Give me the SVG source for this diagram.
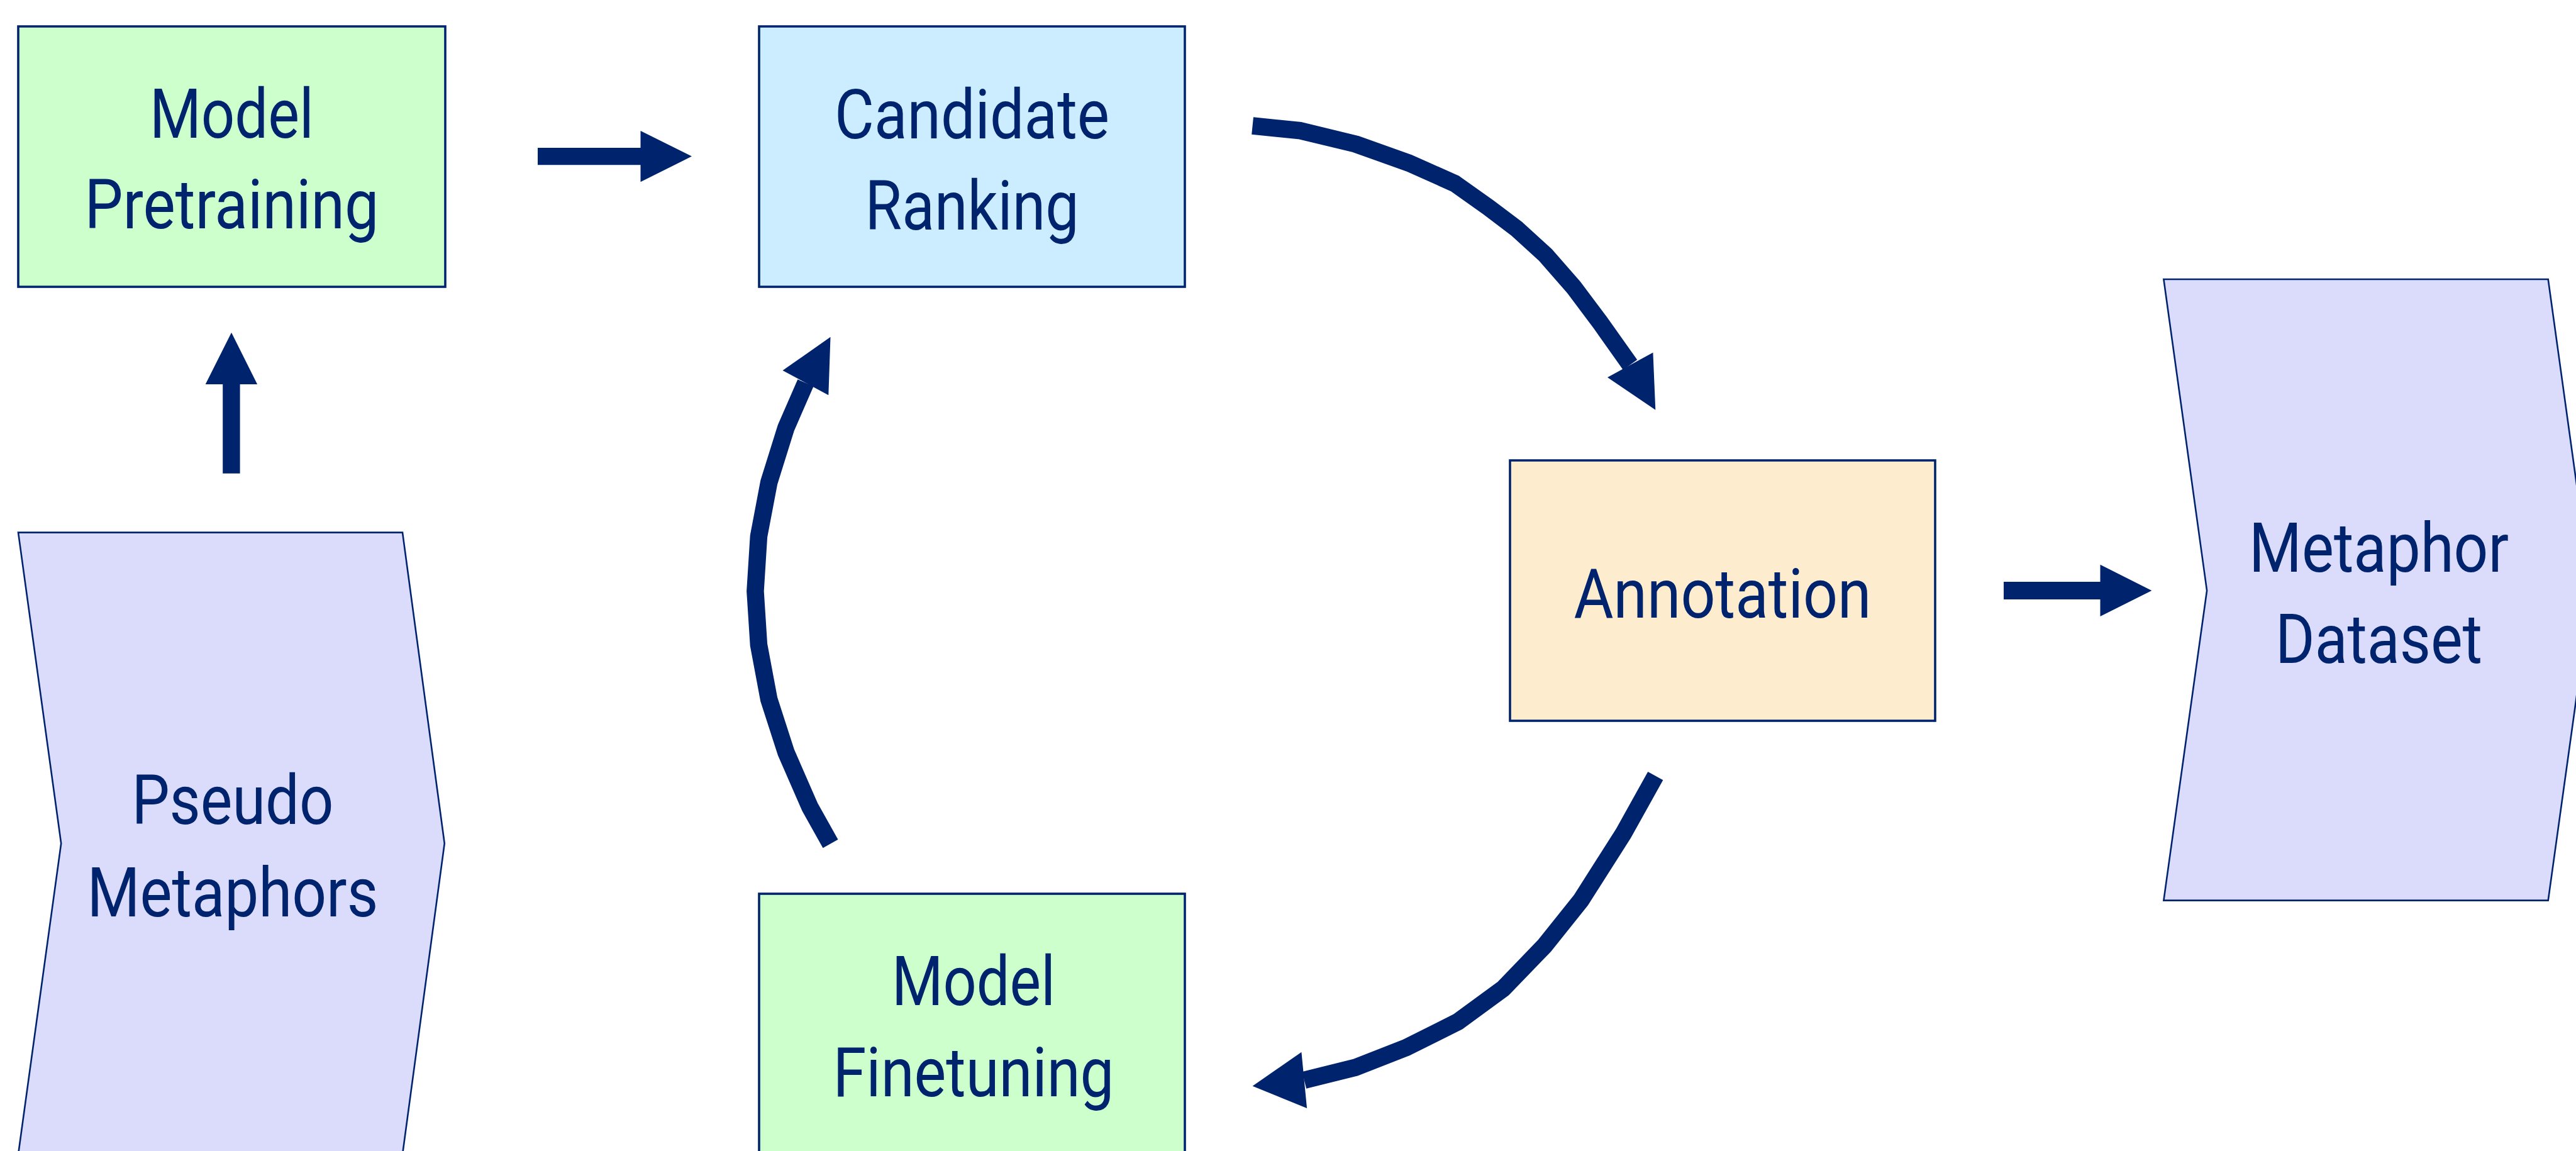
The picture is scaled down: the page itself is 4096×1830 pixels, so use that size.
<svg xmlns="http://www.w3.org/2000/svg" width="4096" height="1830" viewBox="0 0 4096 1830">
  <style>
    .box { stroke: #00236E; stroke-width: 3.6; }
    .tape { stroke: #00236E; stroke-width: 2.6; fill: #DBDBFB; }
    .green { fill: #CCFFCC; }
    .blue { fill: #CCECFF; }
    .sand { fill: #FDEDCE; }
    .label { font-family: Roboto, "Liberation Sans", sans-serif; font-size: 110px; fill: #00236E; text-anchor: middle; }
    .wire { fill: none; stroke: #00236E; stroke-width: 27.5; stroke-linejoin: round; stroke-linecap: butt; }
    .head, .block { fill: #00236E; stroke: none; }
  </style>

  <rect width="4096" height="1830" fill="#FFFFFF"/>

  <!-- process nodes -->
  <g id="model-pretraining">
    <rect class="box green" x="29" y="42" width="679" height="414"/>
    <text class="label" x="368.4" y="218.8" textLength="261" lengthAdjust="spacingAndGlyphs">Model</text>
    <text class="label" x="368.4" y="363.4" textLength="468" lengthAdjust="spacingAndGlyphs">Pretraining</text>
  </g>

  <g id="candidate-ranking">
    <rect class="box blue" x="1207" y="42" width="677" height="414"/>
    <text class="label" x="1545.6" y="219.8" textLength="437" lengthAdjust="spacingAndGlyphs">Candidate</text>
    <text class="label" x="1545.6" y="365.3" textLength="340" lengthAdjust="spacingAndGlyphs">Ranking</text>
  </g>

  <g id="annotation">
    <rect class="box sand" x="2401" y="732" width="676" height="414"/>
    <text class="label" x="2739" y="981.8" textLength="473" lengthAdjust="spacingAndGlyphs">Annotation</text>
  </g>

  <g id="model-finetuning">
    <rect class="box green" x="1207" y="1421" width="677" height="414"/>
    <text class="label" x="1547.9" y="1597.7" textLength="260" lengthAdjust="spacingAndGlyphs">Model</text>
    <text class="label" x="1547.9" y="1743.1" textLength="447" lengthAdjust="spacingAndGlyphs">Finetuning</text>
  </g>

  <!-- data nodes -->
  <g id="pseudo-metaphors">
    <polygon class="tape" points="29,846.6 640,846.6 706.8,1341 640,1835.4 29,1835.4 97.2,1341"/>
    <text class="label" x="369.9" y="1310.2" textLength="321" lengthAdjust="spacingAndGlyphs">Pseudo</text>
    <text class="label" x="369.9" y="1456.5" textLength="463" lengthAdjust="spacingAndGlyphs">Metaphors</text>
  </g>

  <g id="metaphor-dataset">
    <polygon class="tape" points="3440.4,444 4051.7,444 4120.4,938.9 4051.7,1431.6 3440.4,1431.6 3509.1,938.9"/>
    <text class="label" x="3782.5" y="908.5" textLength="413" lengthAdjust="spacingAndGlyphs">Metaphor</text>
    <text class="label" x="3782.5" y="1054.1" textLength="329" lengthAdjust="spacingAndGlyphs">Dataset</text>
  </g>

  <!-- connectors -->
  <g id="connectors">
    <!-- block arrows -->
    <polygon class="block" points="855,234.9 1018.5,234.9 1018.5,208 1100,248.6 1018.5,289.3 1018.5,262.3 855,262.3"/>
    <polygon class="block" points="354.2,752.7 354.2,611 326.7,611 368,528.7 409.1,611 381.6,611 381.6,752.7"/>
    <polygon class="block" points="3186,925 3339.5,925 3339.5,897.8 3421.4,939 3339.5,980 3339.5,953 3186,953"/>

    <!-- feedback loop: ranking -> annotation -->
    <polyline class="wire" points="1991.6,200 2068,207.8 2155.4,229 2240.9,259.5 2313.4,291.9 2366.6,329.6 2412.4,364.3 2457.4,405.4 2501.8,456.1 2545.3,514.1 2592,580"/>
    <polygon class="head" points="2556,600.1 2628.4,560.5 2632.3,651.8"/>

    <!-- annotation -> finetuning -->
    <polyline class="wire" points="2632.3,1233.6 2581.5,1324.9 2513.9,1431.1 2455.9,1503.6 2390.7,1571.3 2318.3,1624.4 2236.1,1665.5 2156.3,1696.8 2073.8,1717.4"/>
    <polygon class="head" points="2069.4,1672.7 2078.1,1762.1 1991.6,1726.8"/>

    <!-- finetuning -> ranking -->
    <polyline class="wire" points="1320.5,1341.5 1287.9,1283.3 1249.9,1196.3 1222.7,1112.1 1206.4,1025.1 1200.9,939.8 1206.4,852.8 1222.7,766.9 1249.9,679.9 1281,608.7"/>
    <polygon class="head" points="1244.5,589.1 1317.3,628.2 1320.5,535.8"/>
  </g>
</svg>
